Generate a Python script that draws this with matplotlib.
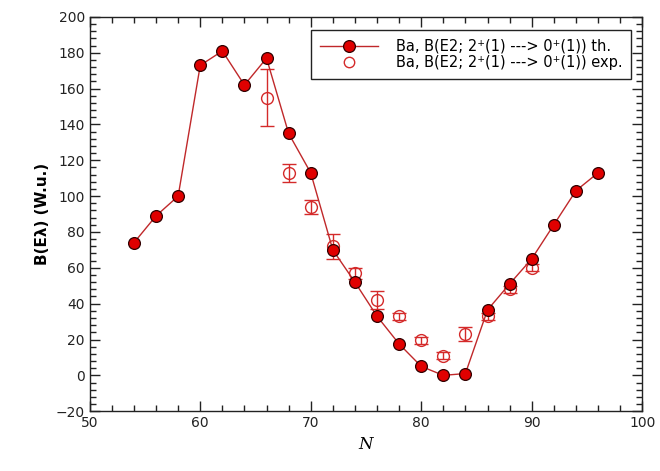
import matplotlib
matplotlib.use("Agg")
import matplotlib.pyplot as plt
from matplotlib.ticker import MultipleLocator
from matplotlib.lines import Line2D

N_th = [54, 56, 58, 60, 62, 64, 66, 68, 70, 72, 74, 76, 78, 80, 82, 84, 86, 88, 90, 92, 94, 96]
B_th = [74, 89, 100, 173, 181, 162, 177, 135, 113, 70, 52, 33, 17.5, 5, 0, 1, 36.5, 51, 65, 84, 103, 113]

N_exp = [66, 68, 70, 72, 74, 76, 78, 80, 82, 84, 86, 88, 90]
B_exp = [155, 113, 94, 72, 57, 42, 33, 19.5, 11, 23, 33, 48, 60]
B_err = [16, 5, 4, 7, 3, 5, 2, 2, 2, 4, 2, 2, 2]

label_th = "Ba, B(E2; 2\u207a(1) ---> 0\u207a(1)) th."
label_exp = "Ba, B(E2; 2\u207a(1) ---> 0\u207a(1)) exp."

line_col = '#c0282a'
exp_col = '#d42a2a'

fig = plt.figure(figsize=(6.6, 4.71), dpi=100)
ax = fig.add_axes([0.136, 0.127, 0.837, 0.837])

ax.plot(N_th, B_th, '-', color=line_col, lw=1.0, marker='o', ms=8.5,
        markerfacecolor='#e00000', markeredgecolor='#300000', markeredgewidth=0.9,
        zorder=3)
ax.errorbar(N_exp, B_exp, yerr=B_err, fmt='o', ms=8.5, markerfacecolor='none',
            markeredgecolor=exp_col, markeredgewidth=1.0, ecolor=exp_col,
            elinewidth=1.0, capsize=5, capthick=1.0, zorder=2)

ax.set_xlim(50, 100)
ax.set_ylim(-20, 200)
ax.xaxis.set_major_locator(MultipleLocator(10))
ax.xaxis.set_minor_locator(MultipleLocator(2))
ax.yaxis.set_major_locator(MultipleLocator(20))
ax.yaxis.set_minor_locator(MultipleLocator(4))
ax.tick_params(which='both', direction='in', top=True, right=True, labelsize=10, colors='#222222')
ax.tick_params(which='major', length=7, width=1)
ax.tick_params(which='minor', length=4, width=1)
for s in ax.spines.values():
    s.set_linewidth(1.0)
    s.set_color('#222222')

ax.set_xlabel('N', fontsize=12, fontstyle='italic', family='DejaVu Serif')
ax.set_ylabel('B(E\u03bb) (W.u.)', fontsize=11, fontweight='bold')

h_th = Line2D([], [], color=line_col, lw=1.0, marker='o', ms=8.5,
              markerfacecolor='#e00000', markeredgecolor='#300000', markeredgewidth=0.9)
h_exp = Line2D([], [], ls='none', marker='o', ms=7.5, markerfacecolor='none',
               markeredgecolor=exp_col, markeredgewidth=1.0)
leg = ax.legend([h_th, h_exp], [label_th, label_exp], loc='upper right',
                bbox_to_anchor=(0.993, 0.985), fontsize=10.5,
                frameon=True, fancybox=False, edgecolor='#222222', framealpha=1,
                handlelength=4.0, borderpad=0.6, labelspacing=0.1, handletextpad=1.2)
leg.get_frame().set_linewidth(1.0)

fig.savefig('out.png', dpi=100)
